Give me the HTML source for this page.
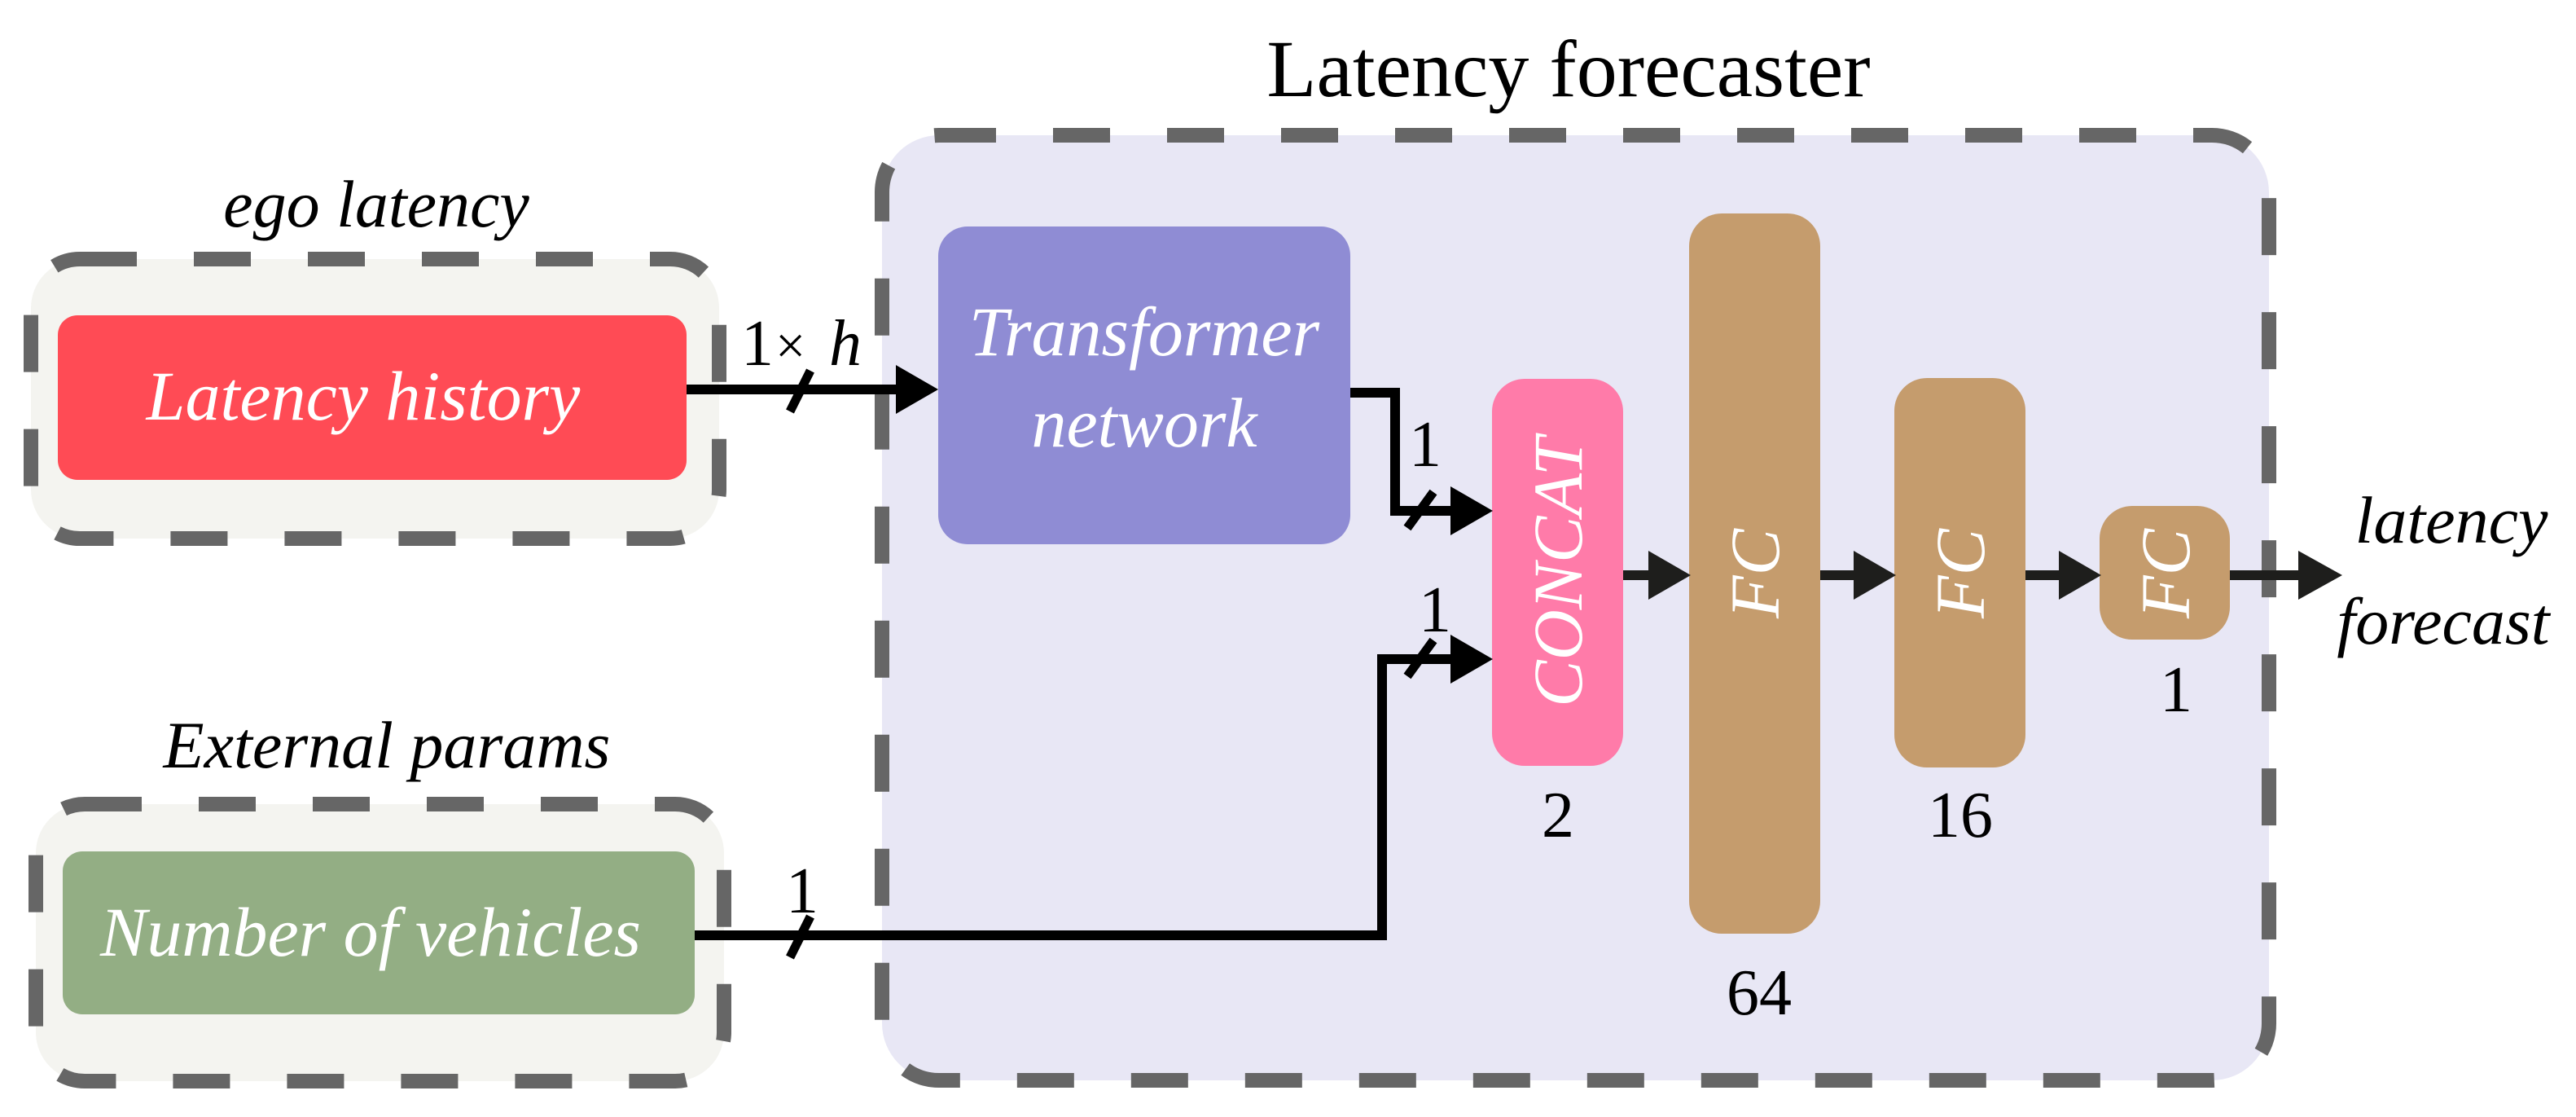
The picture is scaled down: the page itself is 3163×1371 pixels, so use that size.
<!DOCTYPE html>
<html><head><meta charset="utf-8"><style>
html,body{margin:0;padding:0;background:#fff;}
svg{display:block;}
text{font-family:"Liberation Serif",serif;}
</style></head><body>
<svg width="3163" height="1371" viewBox="0 0 3163 1371" xmlns="http://www.w3.org/2000/svg">
<defs>
<marker id="ah" markerWidth="10" markerHeight="10" refX="10" refY="5" orient="auto" markerUnits="userSpaceOnUse"></marker>
</defs>
<!-- Outer latency forecaster box -->
<rect x="1083" y="166" width="1703" height="1160" rx="70" fill="#e8e7f5" stroke="#666" stroke-width="18" stroke-dasharray="70 70"/>
<text x="1926" y="118" font-size="100" text-anchor="middle" fill="#000">Latency forecaster</text>

<!-- ego latency -->
<rect x="38" y="318" width="845" height="343" rx="60" fill="#f4f4f0" stroke="#666" stroke-width="18" stroke-dasharray="70 70"/>
<text x="462" y="278" font-size="82" font-style="italic" text-anchor="middle">ego latency</text>
<rect x="71" y="387" width="772" height="202" rx="24" fill="#ff4b55"/>
<text x="446" y="515" font-size="86" font-style="italic" text-anchor="middle" fill="#fff">Latency history</text>

<!-- External params -->
<rect x="44" y="987" width="845" height="340" rx="60" fill="#f4f4f0" stroke="#666" stroke-width="18" stroke-dasharray="70 70"/>
<text x="475" y="942" font-size="82" font-style="italic" text-anchor="middle">External params</text>
<rect x="77" y="1045" width="776" height="200" rx="24" fill="#93ae84"/>
<text x="455" y="1173" font-size="86" font-style="italic" text-anchor="middle" fill="#fff">Number of vehicles</text>

<!-- Transformer -->
<rect x="1152" y="278" width="506" height="390" rx="36" fill="#8f8cd4"/>
<text x="1405" y="436" font-size="86" font-style="italic" text-anchor="middle" fill="#fff">Transformer</text>
<text x="1405" y="548" font-size="86" font-style="italic" text-anchor="middle" fill="#fff">network</text>

<!-- CONCAT -->
<rect x="1832" y="465" width="161" height="475" rx="40" fill="#ff7ba9"/>
<text transform="translate(1942,702) rotate(-90)" font-size="86" font-style="italic" text-anchor="middle" fill="#fff">CONCAT</text>
<text x="1913" y="1027" font-size="80" text-anchor="middle">2</text>

<!-- FC 64 -->
<rect x="2074" y="262" width="161" height="884" rx="40" fill="#c59c6d"/>
<text transform="translate(2184,704) rotate(-90)" font-size="86" font-style="italic" text-anchor="middle" fill="#fff">FC</text>
<text x="2160" y="1245" font-size="80" text-anchor="middle">64</text>

<!-- FC 16 -->
<rect x="2326" y="464" width="161" height="478" rx="40" fill="#c59c6d"/>
<text transform="translate(2436,704) rotate(-90)" font-size="86" font-style="italic" text-anchor="middle" fill="#fff">FC</text>
<text x="2407" y="1027" font-size="80" text-anchor="middle">16</text>

<!-- FC 1 -->
<rect x="2578" y="621" width="160" height="164" rx="40" fill="#c59c6d"/>
<text transform="translate(2688,704) rotate(-90)" font-size="86" font-style="italic" text-anchor="middle" fill="#fff">FC</text>
<text x="2672" y="873" font-size="80" text-anchor="middle">1</text>

<!-- connectors -->
<g stroke="#000" stroke-width="12" fill="none">
<polyline points="843,478 1100,478"/>
<polyline points="1658,482 1713,482 1713,627 1785,627"/>
<polyline points="853,1148 1697,1148 1697,809 1785,809"/>
<line x1="1993" y1="706" x2="2030" y2="706" stroke="#1e1e1c"/>
<line x1="2235" y1="706" x2="2282" y2="706" stroke="#1e1e1c"/>
<line x1="2487" y1="706" x2="2534" y2="706" stroke="#1e1e1c"/>
<line x1="2738" y1="706" x2="2830" y2="706" stroke="#1e1e1c"/>
</g>
<!-- ticks -->
<g stroke="#000" stroke-width="11">
<line x1="970" y1="505" x2="995" y2="455"/>
<line x1="970" y1="1175" x2="995" y2="1125"/>
<line x1="1728" y1="648" x2="1760" y2="604"/>
<line x1="1728" y1="830" x2="1760" y2="786"/>
</g>
<!-- arrowheads -->
<g fill="#000">
<polygon points="1100,448 1152,478 1100,508"/>
<polygon points="1781,597 1833,627 1781,657"/>
<polygon points="1781,779 1833,809 1781,839"/>
</g>
<g fill="#1e1e1c">
<polygon points="2024,676 2076,706 2024,736"/>
<polygon points="2276,676 2328,706 2276,736"/>
<polygon points="2528,676 2580,706 2528,736"/>
<polygon points="2822,676 2876,706 2822,736"/>
</g>
<!-- labels -->
<text x="910" y="448" font-size="80">1</text>
<text x="952" y="446" font-size="66">×</text>
<text x="1018" y="448" font-size="80" font-style="italic">h</text>
<text x="1750" y="572" font-size="80" text-anchor="middle">1</text>
<text x="1762" y="775" font-size="80" text-anchor="middle">1</text>
<text x="985" y="1120" font-size="80" text-anchor="middle">1</text>
<text x="3010" y="666" font-size="82" font-style="italic" text-anchor="middle">latency</text>
<text x="3000" y="790" font-size="82" font-style="italic" text-anchor="middle">forecast</text>
</svg>
</body></html>
